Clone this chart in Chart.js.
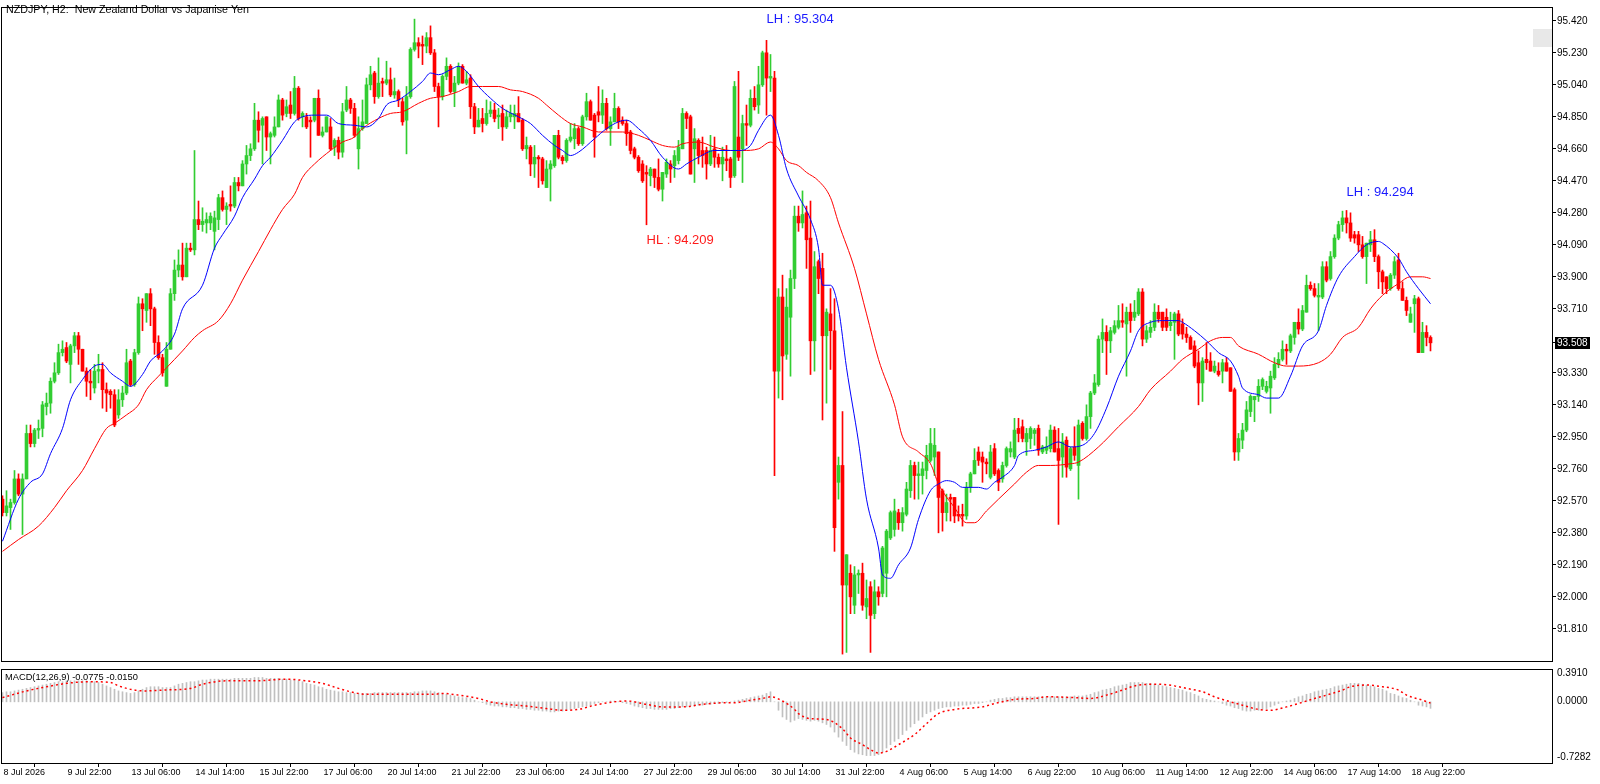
<!DOCTYPE html>
<html>
<head>
<meta charset="utf-8">
<script src="https://cdn.jsdelivr.net/npm/chart.js@4.4.1/dist/chart.umd.min.js"></script>
<style>
  html, body { margin: 0; padding: 0; background: #fff; }
  #wrap { position: relative; width: 1600px; height: 784px; overflow: hidden; }
  canvas { position: absolute; left: 0; }
  #priceCanvas { top: 0; }
  #macdCanvas { top: 668px; }
</style>
</head>
<body>
<div id="wrap">
  <canvas id="priceCanvas" width="1600" height="668"></canvas>
  <canvas id="macdCanvas" width="1600" height="116"></canvas>
</div>
<script>
// NZDJPY H2 candles, bar 0 = 8 Jul 2026 14:00
const opens = [
  92.58,92.50,92.53,92.56,92.70,92.61,92.70,92.97,92.91,92.99,
  93.00,93.13,93.15,93.28,93.33,93.45,93.48,93.38,93.49,93.55,
  93.47,93.34,93.28,93.24,93.34,93.35,93.23,93.22,93.20,93.08,
  93.17,93.21,93.40,93.26,93.45,93.74,93.70,93.80,93.71,93.51,
  93.42,93.25,93.47,93.80,93.94,93.97,93.90,94.07,94.06,94.24,
  94.21,94.22,94.22,94.17,94.24,94.37,94.30,94.33,94.32,94.46,
  94.44,94.57,94.62,94.66,94.83,94.80,94.85,94.73,94.74,94.79,
  94.95,94.87,94.92,94.87,95.02,94.85,94.85,94.83,94.83,94.96,
  94.74,94.76,94.79,94.67,94.71,94.64,94.89,94.95,94.90,94.66,
  94.78,94.81,95.04,95.11,94.97,95.06,95.05,95.07,94.98,95.00,
  94.94,94.83,94.97,95.25,95.29,95.28,95.27,95.32,95.23,95.03,
  94.97,95.09,95.15,95.00,95.05,95.15,95.05,95.08,94.91,94.79,
  94.84,94.81,94.87,94.89,94.85,94.87,94.79,94.85,94.85,94.87,
  94.83,94.66,94.67,94.57,94.61,94.60,94.43,94.54,94.56,94.74,
  94.61,94.59,94.71,94.72,94.78,94.69,94.85,94.94,94.86,94.88,
  94.86,94.93,94.78,94.82,94.90,94.83,94.81,94.76,94.66,94.61,
  94.57,94.52,94.50,94.54,94.49,94.42,94.51,94.57,94.56,94.59,
  94.66,94.87,94.85,94.66,94.71,94.65,94.65,94.57,94.66,94.61,
  94.57,94.60,94.60,94.50,94.73,94.66,94.81,94.80,94.96,94.92,
  95.04,95.23,95.08,95.08,93.34,93.78,93.44,93.66,93.89,94.26,
  94.22,94.28,94.13,93.52,93.99,93.95,93.55,93.68,93.58,92.68,
  92.78,92.07,92.14,91.95,92.13,92.14,91.94,92.06,91.90,92.03,
  92.02,92.14,92.35,92.40,92.50,92.44,92.49,92.63,92.78,92.72,
  92.72,92.75,92.81,92.83,92.86,92.63,92.50,92.59,92.59,92.49,
  92.49,92.48,92.65,92.73,92.86,92.83,92.80,92.71,92.88,92.75,
  92.70,92.78,92.86,92.83,93.00,93.01,92.92,92.94,92.97,93.00,
  92.86,92.87,92.88,92.99,92.88,92.83,92.93,92.76,92.89,92.78,
  93.03,92.94,93.07,93.21,93.26,93.53,93.57,93.52,93.57,93.60,
  93.64,93.62,93.69,93.66,93.68,93.81,93.53,93.57,93.60,93.69,
  93.69,93.66,93.61,93.63,93.68,93.62,93.56,93.54,93.49,93.39,
  93.27,93.41,93.40,93.34,93.34,93.34,93.39,93.36,93.23,92.86,
  92.93,92.99,93.10,93.17,93.19,93.25,93.22,93.24,93.30,93.38,
  93.41,93.47,93.46,93.54,93.63,93.59,93.69,93.85,93.83,93.78,
  93.78,93.96,93.89,94.02,94.13,94.21,94.25,94.22,94.15,94.15,
  94.09,94.02,94.09,94.12,94.02,93.93,93.90,93.83,93.91,94.00,
  93.83,93.76,93.63,93.74,93.77,93.45,93.57,93.54
];
const highs = [
  92.60,92.63,92.58,92.75,92.73,92.73,93.02,93.02,93.00,93.05,
  93.16,93.21,93.30,93.39,93.50,93.52,93.51,93.50,93.57,93.57,
  93.47,93.36,93.35,93.38,93.44,93.39,93.27,93.23,93.23,93.23,
  93.25,93.47,93.41,93.47,93.78,93.77,93.80,93.83,93.72,93.55,
  93.44,93.51,93.83,94.00,94.06,94.10,94.10,94.10,94.65,94.35,
  94.31,94.28,94.28,94.29,94.39,94.41,94.34,94.44,94.49,94.49,
  94.59,94.68,94.69,94.93,94.88,94.85,94.85,94.76,94.85,94.98,
  94.96,94.95,95.00,95.09,95.03,94.88,94.87,94.85,94.96,95.01,
  94.79,94.85,94.84,94.72,94.73,94.93,95.03,94.96,94.93,94.85,
  94.95,95.08,95.15,95.12,95.20,95.08,95.18,95.14,95.08,95.01,
  94.96,95.03,95.26,95.43,95.32,95.33,95.35,95.39,95.25,95.05,
  95.10,95.20,95.16,95.09,95.17,95.16,95.12,95.10,94.93,94.90,
  94.90,94.95,94.94,94.93,94.90,94.92,94.89,94.92,94.92,94.97,
  94.84,94.73,94.68,94.68,94.62,94.61,94.59,94.59,94.74,94.77,
  94.62,94.72,94.81,94.81,94.79,94.86,94.99,94.95,94.87,95.03,
  95.01,94.96,94.85,94.99,94.91,94.85,94.83,94.77,94.67,94.62,
  94.59,94.56,94.55,94.54,94.60,94.52,94.60,94.59,94.65,94.71,
  94.90,94.88,94.86,94.78,94.72,94.73,94.67,94.74,94.73,94.63,
  94.67,94.68,94.61,95.06,95.12,94.86,94.92,95.01,95.03,95.15,
  95.24,95.304,95.22,95.12,93.83,93.91,93.83,93.94,94.32,94.32,
  94.41,94.32,94.35,94.05,94.00,94.04,93.71,93.83,93.77,92.83,
  93.10,92.25,92.19,92.18,92.16,92.20,92.10,92.09,92.10,92.06,
  92.30,92.40,92.51,92.58,92.52,92.53,92.68,92.81,92.80,92.80,
  92.80,92.90,93.00,93.00,92.86,92.64,92.61,92.61,92.59,92.54,
  92.55,92.68,92.74,92.88,92.89,92.86,92.82,92.90,92.91,92.76,
  92.80,92.89,92.92,93.06,93.06,93.05,93.00,93.01,93.00,93.02,
  92.90,92.95,93.02,93.01,93.00,92.97,92.95,92.89,93.01,93.05,
  93.04,93.14,93.22,93.32,93.55,93.65,93.61,93.60,93.64,93.73,
  93.74,93.72,93.74,93.76,93.83,93.83,93.61,93.64,93.74,93.73,
  93.69,93.71,93.69,93.69,93.70,93.65,93.60,93.55,93.52,93.46,
  93.42,93.51,93.45,93.40,93.39,93.41,93.42,93.36,93.24,92.97,
  93.03,93.16,93.20,93.19,93.29,93.30,93.28,93.34,93.42,93.45,
  93.52,93.50,93.56,93.63,93.71,93.73,93.91,93.87,93.86,93.86,
  93.99,93.99,94.05,94.15,94.23,94.29,94.294,94.28,94.17,94.17,
  94.14,94.10,94.17,94.18,94.03,93.94,93.90,93.92,94.02,94.04,
  93.87,93.78,93.72,93.79,93.78,93.63,93.61,93.55
];
const lows = [
  92.48,92.48,92.40,92.55,92.60,92.37,92.70,92.89,92.89,92.94,
  92.95,93.08,93.09,93.27,93.32,93.43,93.39,93.27,93.45,93.38,
  93.34,93.19,93.17,93.21,93.27,93.12,93.10,93.12,93.01,93.06,
  93.13,93.20,93.25,93.25,93.44,93.58,93.63,93.61,93.44,93.41,
  93.31,93.25,93.47,93.76,93.90,93.88,93.90,94.05,94.03,94.18,
  94.17,94.16,94.18,94.06,94.18,94.29,94.21,94.29,94.31,94.41,
  94.44,94.51,94.59,94.65,94.70,94.57,94.65,94.57,94.73,94.79,
  94.83,94.85,94.84,94.86,94.83,94.79,94.78,94.61,94.82,94.74,
  94.73,94.76,94.65,94.62,94.60,94.61,94.88,94.87,94.73,94.54,
  94.77,94.81,95.01,94.93,94.96,94.97,95.04,94.97,94.96,94.91,
  94.80,94.63,94.96,95.24,95.20,95.16,95.23,95.22,95.00,94.79,
  94.95,95.07,94.99,94.91,95.04,95.05,95.04,94.84,94.75,94.79,
  94.76,94.80,94.85,94.82,94.78,94.71,94.78,94.82,94.78,94.82,
  94.65,94.60,94.50,94.49,94.43,94.45,94.43,94.35,94.55,94.60,
  94.57,94.58,94.70,94.66,94.68,94.68,94.83,94.83,94.61,94.82,
  94.81,94.77,94.68,94.82,94.78,94.80,94.68,94.63,94.60,94.52,
  94.46,94.209,94.44,94.43,94.41,94.35,94.49,94.46,94.49,94.57,
  94.66,94.78,94.51,94.46,94.57,94.55,94.48,94.56,94.55,94.55,
  94.47,94.53,94.43,94.49,94.59,94.46,94.68,94.79,94.89,94.87,
  95.03,94.86,95.00,92.72,93.18,93.17,93.41,93.31,93.83,94.17,
  94.19,93.95,93.32,93.34,93.80,93.05,93.15,93.35,92.27,92.58,
  91.66,91.67,91.90,91.90,92.02,91.92,91.87,91.67,91.87,91.95,
  92.00,92.00,92.34,92.36,92.40,92.39,92.48,92.59,92.58,92.58,
  92.61,92.70,92.80,92.72,92.38,92.39,92.45,92.45,92.44,92.45,
  92.42,92.46,92.62,92.73,92.78,92.68,92.73,92.70,92.72,92.63,
  92.68,92.77,92.83,92.82,92.92,92.92,92.84,92.88,92.90,92.84,
  92.85,92.85,92.86,92.86,92.43,92.71,92.71,92.75,92.81,92.58,
  92.93,92.93,93.00,93.20,93.25,93.45,93.32,93.45,93.56,93.59,
  93.60,93.31,93.57,93.64,93.67,93.49,93.51,93.54,93.58,93.63,
  93.58,93.58,93.58,93.41,93.55,93.53,93.51,93.47,93.36,93.14,
  93.16,93.35,93.34,93.33,93.31,93.27,93.34,93.22,92.81,92.81,
  92.88,92.98,93.07,93.04,93.16,93.23,93.21,93.09,93.29,93.36,
  93.40,93.38,93.45,93.50,93.56,93.58,93.69,93.82,93.78,93.58,
  93.77,93.87,93.88,94.01,94.12,94.17,94.16,94.11,94.10,94.05,
  94.01,93.86,94.05,93.99,93.83,93.80,93.80,93.82,93.89,93.82,
  93.76,93.67,93.63,93.57,93.45,93.45,93.49,93.46
];
const closes = [
  92.50,92.54,92.56,92.70,92.61,92.70,92.97,92.91,92.99,93.00,
  93.14,93.15,93.28,93.33,93.45,93.47,93.40,93.49,93.55,93.47,
  93.34,93.28,93.27,93.34,93.35,93.23,93.21,93.20,93.02,93.17,
  93.21,93.39,93.26,93.45,93.74,93.71,93.80,93.71,93.51,93.42,
  93.33,93.47,93.80,93.94,93.97,93.90,94.07,94.06,94.24,94.21,
  94.23,94.24,94.26,94.25,94.37,94.30,94.32,94.32,94.46,94.44,
  94.57,94.62,94.66,94.83,94.77,94.84,94.73,94.75,94.79,94.95,
  94.86,94.91,94.87,95.02,94.84,94.87,94.79,94.82,94.96,94.74,
  94.76,94.85,94.66,94.71,94.64,94.88,94.95,94.90,94.74,94.78,
  94.82,95.04,95.10,94.97,95.05,95.05,95.07,94.98,95.00,94.95,
  94.82,94.97,95.25,95.29,95.27,95.27,95.32,95.23,95.03,94.97,
  95.09,95.15,95.00,95.05,95.15,95.05,95.07,94.91,94.79,94.83,
  94.81,94.87,94.89,94.84,94.86,94.79,94.85,94.87,94.87,94.82,
  94.66,94.68,94.57,94.61,94.60,94.47,94.54,94.57,94.74,94.61,
  94.59,94.71,94.73,94.78,94.69,94.85,94.94,94.83,94.73,94.86,
  94.93,94.78,94.82,94.90,94.82,94.81,94.75,94.65,94.61,94.53,
  94.47,94.51,94.54,94.49,94.42,94.52,94.58,94.54,94.62,94.67,
  94.87,94.84,94.51,94.72,94.62,94.62,94.57,94.65,94.61,94.57,
  94.61,94.59,94.49,95.03,94.61,94.81,94.80,94.96,94.91,95.04,
  95.23,95.08,95.09,93.34,93.78,93.43,93.72,93.89,94.26,94.22,
  94.27,94.12,93.52,93.96,93.89,93.55,93.69,93.58,92.41,92.78,
  92.07,92.25,92.00,92.13,92.14,91.95,91.99,91.89,92.03,92.00,
  92.29,92.39,92.50,92.51,92.44,92.50,92.64,92.78,92.72,92.73,
  92.76,92.84,92.91,92.90,92.59,92.50,92.56,92.58,92.48,92.48,
  92.48,92.65,92.73,92.81,92.81,92.80,92.79,92.86,92.73,92.68,
  92.78,92.88,92.88,92.99,92.97,92.94,92.97,93.00,92.99,92.87,
  92.89,92.89,92.99,92.86,92.81,92.92,92.77,92.88,92.84,93.02,
  92.94,93.07,93.21,93.27,93.53,93.57,93.52,93.58,93.61,93.64,
  93.63,93.69,93.64,93.69,93.81,93.53,93.58,93.60,93.69,93.65,
  93.60,93.60,93.63,93.68,93.56,93.56,93.54,93.47,93.37,93.27,
  93.40,93.39,93.34,93.37,93.32,93.39,93.34,93.22,92.86,92.94,
  92.99,93.11,93.19,93.19,93.25,93.29,93.25,93.31,93.38,93.41,
  93.47,93.46,93.55,93.63,93.59,93.70,93.85,93.83,93.79,93.79,
  93.96,93.88,94.02,94.13,94.21,94.25,94.22,94.13,94.13,94.09,
  94.02,94.10,94.12,94.02,93.93,93.87,93.83,93.91,93.99,93.83,
  93.76,93.70,93.68,93.77,93.45,93.57,93.54,93.508
];

// moving averages (bar index, price)
const fastMaBars = [0,4,7,10,12,15,17,20,23,25,27,30,32,35,37,40,43,45,50,53,55,58,60,63,65,67,70,73,75,78,81,84,88,91,94,96,99,102,105,107,109,112,114,116,119,122,125,129,132,135,138,140,142,144,148,151,154,156,159,162,165,169,171,174,178,182,184,187,189,192,194,196,199,202,204,205,207,209,211,214,216,219,220,222,224,227,229,232,234,236,238,240,244,246,248,250,253,254,258,261,264,267,270,273,276,279,282,284,287,290,294,295,298,301,304,307,309,310,314,316,319,322,325,329,331,334,338,341,344,345,349,351,354,357];
const fastMaValues = [92.33,92.58,92.68,92.73,92.85,93.00,93.17,93.29,93.37,93.38,93.33,93.28,93.25,93.32,93.40,93.46,93.56,93.71,93.85,94.07,94.15,94.26,94.37,94.48,94.56,94.61,94.71,94.82,94.85,94.86,94.86,94.81,94.80,94.79,94.84,94.92,94.95,95.00,95.06,95.11,95.10,95.13,95.15,95.12,95.03,94.96,94.90,94.85,94.81,94.74,94.68,94.65,94.62,94.64,94.72,94.78,94.82,94.83,94.78,94.71,94.61,94.54,94.57,94.61,94.65,94.65,94.65,94.68,94.77,94.86,94.74,94.54,94.38,94.24,94.07,93.85,93.85,93.71,93.36,92.92,92.58,92.29,92.13,92.11,92.19,92.29,92.46,92.63,92.67,92.69,92.68,92.65,92.65,92.64,92.68,92.71,92.78,92.84,92.87,92.89,92.92,92.89,92.90,92.97,93.12,93.31,93.46,93.58,93.63,93.64,93.64,93.63,93.58,93.52,93.45,93.40,93.31,93.24,93.20,93.18,93.18,93.31,93.49,93.58,93.73,93.90,94.02,94.09,94.11,94.10,94.01,93.93,93.83,93.74];
const slowMaBars = [0,4,9,13,16,20,23,26,28,31,34,36,39,41,45,48,50,54,57,60,64,67,70,73,75,78,82,85,88,90,94,97,100,104,107,110,114,117,120,124,127,130,134,136,139,142,145,149,152,155,159,162,165,168,170,174,178,182,185,189,192,194,196,199,201,204,207,209,213,216,219,223,225,229,232,234,238,241,243,246,249,253,256,259,262,267,269,274,279,284,287,292,295,299,302,305,307,309,314,318,321,324,329,332,335,339,342,345,349,352,355,357];
const slowMaValues = [92.27,92.34,92.42,92.53,92.63,92.75,92.88,93.00,93.03,93.08,93.14,93.23,93.31,93.36,93.46,93.54,93.58,93.64,93.74,93.88,94.05,94.18,94.30,94.39,94.49,94.57,94.65,94.70,94.73,94.78,94.84,94.87,94.88,94.93,94.96,94.97,95.00,95.03,95.03,95.03,95.01,95.00,94.96,94.92,94.86,94.81,94.79,94.76,94.76,94.76,94.74,94.71,94.68,94.67,94.69,94.70,94.67,94.65,94.65,94.66,94.70,94.66,94.59,94.56,94.52,94.47,94.37,94.22,93.95,93.68,93.41,93.14,92.95,92.86,92.79,92.67,92.53,92.44,92.44,92.51,92.58,92.67,92.74,92.78,92.78,92.79,92.80,92.89,93.01,93.13,93.23,93.34,93.41,93.47,93.52,93.54,93.54,93.49,93.44,93.39,93.37,93.37,93.39,93.44,93.54,93.60,93.71,93.79,93.86,93.90,93.90,93.89];

// MACD(12,26,9): main as histogram per bar, signal read at sample bars
const macdHist = [
  0.11,0.12,0.12,0.13,0.14,0.15,0.16,0.17,0.18,0.19,0.20,0.21,0.22,0.23,0.24,0.24,
  0.25,0.25,0.25,0.25,0.25,0.25,0.24,0.24,0.23,0.21,0.19,0.17,0.15,0.13,0.12,0.11,
  0.10,0.11,0.13,0.15,0.17,0.18,0.18,0.18,0.17,0.17,0.17,0.19,0.21,0.22,0.23,0.24,
  0.24,0.25,0.26,0.26,0.27,0.27,0.27,0.27,0.27,0.27,0.28,0.28,0.28,0.28,0.28,0.29,
  0.29,0.29,0.28,0.28,0.28,0.28,0.27,0.27,0.26,0.26,0.25,0.24,0.22,0.21,0.20,0.18,
  0.17,0.15,0.14,0.13,0.12,0.12,0.11,0.11,0.10,0.10,0.10,0.10,0.10,0.11,0.11,0.11,
  0.11,0.11,0.11,0.11,0.11,0.11,0.11,0.12,0.12,0.13,0.13,0.13,0.12,0.11,0.10,0.09,
  0.08,0.07,0.06,0.05,0.05,0.04,0.02,0.00,-0.01,-0.03,-0.04,-0.05,-0.05,-0.06,-0.06,-0.07,
  -0.07,-0.08,-0.08,-0.09,-0.09,-0.10,-0.10,-0.11,-0.11,-0.12,-0.12,-0.11,-0.11,-0.10,-0.09,-0.08,
  -0.07,-0.06,-0.05,-0.04,-0.02,-0.01,0.00,0.00,0.01,0.01,0.00,-0.01,-0.02,-0.03,-0.05,-0.06,
  -0.07,-0.08,-0.08,-0.09,-0.09,-0.09,-0.09,-0.08,-0.08,-0.07,-0.06,-0.06,-0.05,-0.05,-0.04,-0.04,
  -0.03,-0.03,-0.02,-0.02,-0.01,-0.01,0.00,0.01,0.02,0.03,0.04,0.05,0.06,0.07,0.08,0.10,
  0.12,0.00,-0.10,-0.18,-0.21,-0.24,-0.22,-0.20,-0.21,-0.22,-0.23,-0.22,-0.23,-0.25,-0.27,-0.30,
  -0.36,-0.42,-0.47,-0.52,-0.57,-0.60,-0.62,-0.63,-0.64,-0.64,-0.64,-0.63,-0.60,-0.55,-0.51,-0.47,
  -0.44,-0.39,-0.34,-0.30,-0.26,-0.22,-0.18,-0.14,-0.12,-0.10,-0.08,-0.07,-0.06,-0.06,-0.05,-0.05,
  -0.04,-0.04,-0.03,-0.02,-0.02,-0.01,0.00,0.02,0.03,0.04,0.04,0.05,0.05,0.06,0.06,0.06,
  0.06,0.06,0.06,0.06,0.06,0.06,0.06,0.06,0.06,0.06,0.06,0.06,0.07,0.07,0.07,0.08,
  0.09,0.11,0.12,0.14,0.15,0.16,0.18,0.19,0.20,0.21,0.23,0.23,0.23,0.23,0.22,0.22,
  0.21,0.20,0.19,0.18,0.17,0.16,0.15,0.14,0.12,0.11,0.09,0.07,0.04,0.03,0.02,0.01,
  0.00,-0.02,-0.04,-0.05,-0.07,-0.08,-0.10,-0.11,-0.11,-0.10,-0.10,-0.09,-0.08,-0.06,-0.04,-0.02,
  0.00,0.01,0.02,0.04,0.06,0.07,0.09,0.10,0.12,0.13,0.14,0.15,0.16,0.18,0.19,0.20,
  0.21,0.22,0.22,0.22,0.21,0.20,0.19,0.18,0.16,0.15,0.13,0.10,0.09,0.07,0.05,0.04,
  0.02,0.00,-0.04,-0.05,-0.06,-0.0775
];
const signalBars = [0,6,10,16,22,27,29,33,36,40,47,50,56,63,71,76,80,84,87,91,108,110,114,119,122,126,131,136,140,144,148,153,156,161,165,170,175,181,183,187,191,192,195,198,199,202,206,210,212,215,217,219,221,224,228,231,234,238,243,245,248,250,253,258,261,268,272,276,280,284,289,293,296,300,303,307,310,314,317,321,324,328,331,335,337,341,345,349,351,355,357];
const signalValues = [0.05,0.13,0.17,0.22,0.24,0.23,0.19,0.14,0.13,0.14,0.16,0.21,0.25,0.25,0.27,0.25,0.22,0.16,0.12,0.09,0.09,0.10,0.08,0.04,0.00,-0.03,-0.05,-0.08,-0.10,-0.09,-0.04,0.00,0.01,-0.03,-0.06,-0.06,-0.03,-0.01,-0.01,0.02,0.05,0.06,0.01,-0.09,-0.14,-0.20,-0.21,-0.32,-0.43,-0.51,-0.57,-0.61,-0.59,-0.51,-0.39,-0.26,-0.14,-0.09,-0.07,-0.06,-0.02,0.00,0.03,0.04,0.06,0.05,0.04,0.08,0.14,0.20,0.21,0.19,0.16,0.12,0.06,0.00,-0.04,-0.09,-0.10,-0.06,-0.02,0.04,0.08,0.14,0.18,0.20,0.18,0.14,0.08,0.02,-0.015];

// axis ticks
const priceTicks = [95.42,95.23,95.04,94.85,94.66,94.47,94.28,94.09,93.90,93.71,93.508,93.33,93.14,92.95,92.76,92.57,92.38,92.19,92.00,91.81];
const timeTickBars = [0,16,32,48,64,80,96,112,128,144,160,176,192,208,224,240,256,272,288,304,320,336,352];
const timeLabels = ['8 Jul 2026','9 Jul 22:00','13 Jul 06:00','14 Jul 14:00','15 Jul 22:00','17 Jul 06:00','20 Jul 14:00','21 Jul 22:00','23 Jul 06:00','24 Jul 14:00','27 Jul 22:00','29 Jul 06:00','30 Jul 14:00','31 Jul 22:00','4 Aug 06:00','5 Aug 14:00','6 Aug 22:00','10 Aug 06:00','11 Aug 14:00','12 Aug 22:00','14 Aug 06:00','17 Aug 14:00','18 Aug 22:00'];
const swingLabels = [
  { bar: 191, price: 95.304, text: 'LH : 95.304', color: '#1a1aff', dy: -21 },
  { bar: 161, price: 94.209, text: 'HL : 94.209', color: '#ff1a1a', dy: 16 },
  { bar: 336, price: 94.294, text: 'LH : 94.294', color: '#1a1aff', dy: -18 }
];

const BULL = '#32cd32';
const BEAR = '#ff0000';
const X_MIN = -0.375, X_MAX = 387.375;
const FONT = "'Liberation Sans', Arial, sans-serif";

Chart.defaults.font.family = FONT;
Chart.defaults.font.size = 10;
Chart.defaults.color = '#000';

const barIdx = closes.map((c, i) => i);
const candleColors = barIdx.map(i => closes[i] >= opens[i] ? BULL : BEAR);

function framePlugin(id) {
  return {
    id: id,
    afterDraw(chart) {
      const a = chart.chartArea;
      const ctx = chart.ctx;
      ctx.save();
      ctx.strokeStyle = '#000';
      ctx.lineWidth = 1;
      ctx.strokeRect(a.left + 0.5, a.top + 0.5, a.right - a.left, a.bottom - a.top);
      ctx.restore();
    }
  };
}

const priceDecor = {
  id: 'priceDecor',
  afterDraw(chart) {
    const ctx = chart.ctx;
    const xs = chart.scales.x, ys = chart.scales.y;
    ctx.save();
    // title
    ctx.fillStyle = '#000';
    ctx.font = '10.7px ' + FONT;
    ctx.textBaseline = 'middle';
    ctx.textAlign = 'left';
    ctx.fillText('NZDJPY, H2:  New Zealand Dollar vs Japanise Yen', 6, 10);
    // swing labels
    ctx.font = '13px ' + FONT;
    swingLabels.forEach(l => {
      ctx.fillStyle = l.color;
      ctx.fillText(l.text, xs.getPixelForValue(l.bar), ys.getPixelForValue(l.price) + l.dy);
    });
    // shift marker
    ctx.fillStyle = '#e8e8e8';
    ctx.fillRect(chart.chartArea.right - 19, 29, 19, 18);
    // last price box
    const last = closes[closes.length - 1];
    const py = Math.round(ys.getPixelForValue(last));
    ctx.fillStyle = '#000';
    ctx.fillRect(ys.left + 3, py - 6, 35, 12);
    ctx.fillStyle = '#fff';
    ctx.font = '10px ' + FONT;
    ctx.fillText(last.toFixed(3), ys.left + 5, py + 0.5);
    ctx.restore();
  }
};

new Chart(document.getElementById('priceCanvas'), {
  type: 'bar',
  data: {
    datasets: [
      {
        label: 'wicks',
        data: barIdx.map(i => ({ x: i, y: [lows[i], highs[i]] })),
        backgroundColor: candleColors,
        barThickness: 1,
        grouped: false,
        order: 3
      },
      {
        label: 'bodies',
        data: barIdx.map(i => ({ x: i, y: [opens[i], closes[i]] })),
        backgroundColor: candleColors,
        barThickness: 3,
        minBarLength: 1,
        grouped: false,
        order: 2
      },
      {
        type: 'line',
        label: 'slow MA',
        data: slowMaBars.map((b, i) => ({ x: b, y: slowMaValues[i] })),
        borderColor: '#ff0000',
        borderWidth: 1,
        pointRadius: 0,
        cubicInterpolationMode: 'monotone',
        order: 1
      },
      {
        type: 'line',
        label: 'fast MA',
        data: fastMaBars.map((b, i) => ({ x: b, y: fastMaValues[i] })),
        borderColor: '#0000ff',
        borderWidth: 1,
        pointRadius: 0,
        cubicInterpolationMode: 'monotone',
        order: 0
      }
    ]
  },
  options: {
    responsive: false,
    animation: false,
    events: [],
    layout: { padding: { left: 1, top: 2, right: 0, bottom: 2 } },
    plugins: { legend: { display: false }, tooltip: { enabled: false } },
    scales: {
      x: { type: 'linear', display: false, min: X_MIN, max: X_MAX, offset: false },
      y: {
        position: 'right',
        min: 91.619,
        max: 95.502,
        afterFit: s => { s.width = 48; },
        afterBuildTicks: s => { s.ticks = priceTicks.map(v => ({ value: v })); },
        grid: { drawOnChartArea: false, drawTicks: true, tickLength: 4, color: '#000' },
        border: { display: false },
        ticks: { autoSkip: false, padding: 1, color: '#000', font: { size: 10 }, callback: v => v.toFixed(3) }
      }
    }
  },
  plugins: [framePlugin('priceFrame'), priceDecor]
});

const macdDecor = {
  id: 'macdDecor',
  afterDraw(chart) {
    const ctx = chart.ctx;
    const ys = chart.scales.y;
    ctx.save();
    ctx.fillStyle = '#000';
    ctx.font = '9.3px ' + FONT;
    ctx.textBaseline = 'middle';
    ctx.textAlign = 'left';
    ctx.fillText('MACD(12,26,9) -0.0775 -0.0150', 5, 9);
    ctx.font = '10px ' + FONT;
    const lx = ys.left + 5;
    ctx.fillText('0.3910', lx, ys.getPixelForValue(0.391) + 4.5);
    ctx.fillText('0.0000', lx, ys.getPixelForValue(0) - 1);
    ctx.fillText('-0.7282', lx, ys.getPixelForValue(-0.7282) - 5.5);
    ctx.restore();
  }
};

new Chart(document.getElementById('macdCanvas'), {
  type: 'bar',
  data: {
    datasets: [
      {
        label: 'MACD',
        data: barIdx.map(i => ({ x: i, y: macdHist[i] })),
        backgroundColor: '#c0c0c0',
        barThickness: 1,
        grouped: false,
        order: 2
      },
      {
        type: 'line',
        label: 'Signal',
        data: signalBars.map((b, i) => ({ x: b, y: signalValues[i] })),
        borderColor: '#ff0000',
        borderWidth: 1.5,
        borderDash: [2, 3],
        pointRadius: 0,
        cubicInterpolationMode: 'monotone',
        order: 1
      }
    ]
  },
  options: {
    responsive: false,
    animation: false,
    events: [],
    layout: { padding: { left: 1, top: 1, right: 0, bottom: 0 } },
    plugins: { legend: { display: false }, tooltip: { enabled: false } },
    scales: {
      x: {
        type: 'linear',
        position: 'bottom',
        min: X_MIN,
        max: X_MAX,
        offset: false,
        afterFit: s => { s.height = 21; },
        afterBuildTicks: s => { s.ticks = timeTickBars.map(v => ({ value: v })); },
        grid: { drawOnChartArea: false, drawTicks: true, tickLength: 4, color: '#000' },
        border: { display: false },
        ticks: {
          align: 'start', autoSkip: false, maxRotation: 0, minRotation: 0,
          padding: 0, labelOffset: 1, color: '#000', font: { size: 9 },
          callback: (v, i) => timeLabels[i]
        }
      },
      y: {
        position: 'right',
        min: -0.7282,
        max: 0.391,
        afterFit: s => { s.width = 48; },
        grid: { display: false },
        border: { display: false },
        ticks: { display: false }
      }
    }
  },
  plugins: [framePlugin('macdFrame'), macdDecor]
});
</script>
</body>
</html>
